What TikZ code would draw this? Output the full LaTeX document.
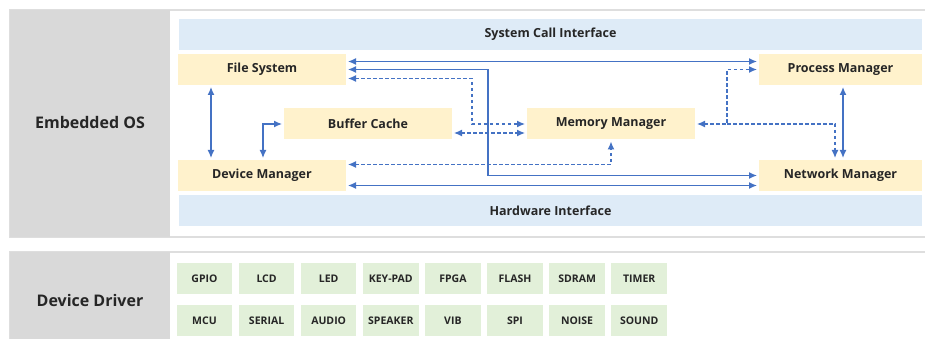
\documentclass[tikz,border=0pt]{standalone}
\usepackage{fontspec}
\setmainfont{Open Sans}
\usetikzlibrary{arrows.meta,positioning}

\definecolor{panelgray}{HTML}{D9D9D9}
\definecolor{bandblue}{HTML}{DEEBF7}
\definecolor{modyellow}{HTML}{FFF2CC}
\definecolor{drvgreen}{HTML}{E2F0D9}
\definecolor{linkblue}{HTML}{4472C4}
\definecolor{textdark}{HTML}{262626}

\begin{document}
\begin{tikzpicture}[x=1pt, y=-1pt, >={Latex[length=8pt,width=7pt]}]
    % Styles
    \tikzstyle{layer_label} = [font=\fontsize{16}{19}\selectfont\bfseries, text=textdark]
    \tikzstyle{band} = [rectangle, fill=bandblue, minimum width=743pt, minimum height=31pt, font=\fontsize{12.5}{15}\selectfont\bfseries, text=textdark]
    \tikzstyle{module} = [rectangle, fill=modyellow, minimum width=168pt, minimum height=31pt, outer sep=2pt, font=\fontsize{12.5}{15}\selectfont\bfseries, text=textdark]
    \tikzstyle{module_right} = [module, minimum width=163pt]
    \tikzstyle{driver} = [rectangle, fill=drvgreen, minimum width=55.5pt, minimum height=31pt, inner sep=0pt, font=\fontsize{10.5}{12}\selectfont\bfseries, text=textdark]
    \tikzstyle{link} = [<->, draw=linkblue, line width=1.3pt]
    \tikzstyle{link_dashed} = [link, dash pattern=on 3.5pt off 2.5pt]

    \useasboundingbox (0,0) rectangle (925,339);

    % Layer panels
    \draw [black!13, line width=1.2pt] (10,10) rectangle (935,237);
    \draw [black!13, line width=1.2pt] (10,252) rectangle (935,345);
    \fill [panelgray] (10,10) rectangle (170,237);
    \fill [panelgray] (10,252) rectangle (170,345);
    \node [layer_label] (os) at (90,123) {Embedded OS};
    \node [layer_label] (dd) at (90,300) {Device Driver};

    % Interfaces
    \node [band] (sci) at (550.5,34.5) {System Call Interface};
    \node [band] (hwi) at (550.5,210.5) {Hardware Interface};

    % Kernel modules
    \node [module] (fs) at (262,69.5) {File System};
    \node [module] (bc) at (368,124) {Buffer Cache};
    \node [module] (dm) at (262,175.5) {Device Manager};
    \node [module] (mm) at (611,124) {Memory Manager};
    \node [module_right] (pm) at (840.5,69.5) {Process Manager};
    \node [module_right] (nm) at (840.5,175.5) {Network Manager};

    % Bend points
    \coordinate (fsbus) at (488,0);
    \coordinate (fsdrop) at (472,0);
    \coordinate (mmdrop) at (727,0);

    % Connections
    \draw [link] ([yshift=8pt]fs.east) -- ([yshift=8pt]pm.west);
    \draw [link] (fs.east) -- (fs.east -| fsbus) |- (nm.west);
    \draw [link_dashed] ([yshift=-9pt]fs.east) -| (fsdrop |- mm.west) -- (mm.west);
    \draw [link_dashed] ([yshift=-9pt]bc.east) -- ([yshift=-9pt]mm.west);
    \draw [link_dashed] ([yshift=11pt]dm.east) -| (mm.south);
    \draw [link] ([yshift=-10pt]dm.east) -- ([yshift=-10pt]nm.west);
    \draw [link] ([xshift=-51pt]fs.south) -- ([xshift=-51pt]dm.north);
    \draw [link] (bc.west) -| ([xshift=1pt]dm.north);
    \draw [link_dashed] (mm.east) -- (mmdrop |- mm.east) |- (pm.west);
    \draw [link_dashed, -> ] (mmdrop |- mm.east) -| ([xshift=-5.5pt]nm.north);
    \draw [link] ([xshift=2.5pt]pm.south) -- ([xshift=2.5pt]nm.north);

    % Drivers
    \node [driver] (gpio) at (204.5,278.5) {GPIO};
    \node [driver, right=6.2pt of gpio] (lcd) {LCD};
    \node [driver, right=6.2pt of lcd] (led) {LED};
    \node [driver, right=6.2pt of led] (keypad) {KEY-PAD};
    \node [driver, right=6.2pt of keypad] (fpga) {FPGA};
    \node [driver, right=6.2pt of fpga] (flash) {FLASH};
    \node [driver, right=6.2pt of flash] (sdram) {SDRAM};
    \node [driver, right=6.2pt of sdram] (timer) {TIMER};

    \node [driver, below=11pt of gpio] (mcu) {MCU};
    \node [driver, right=6.2pt of mcu] (serial) {SERIAL};
    \node [driver, right=6.2pt of serial] (audio) {AUDIO};
    \node [driver, right=6.2pt of audio] (speaker) {SPEAKER};
    \node [driver, right=6.2pt of speaker] (vib) {VIB};
    \node [driver, right=6.2pt of vib] (spi) {SPI};
    \node [driver, right=6.2pt of spi] (noise) {NOISE};
    \node [driver, right=6.2pt of noise] (sound) {SOUND};

\end{tikzpicture}
\end{document}
